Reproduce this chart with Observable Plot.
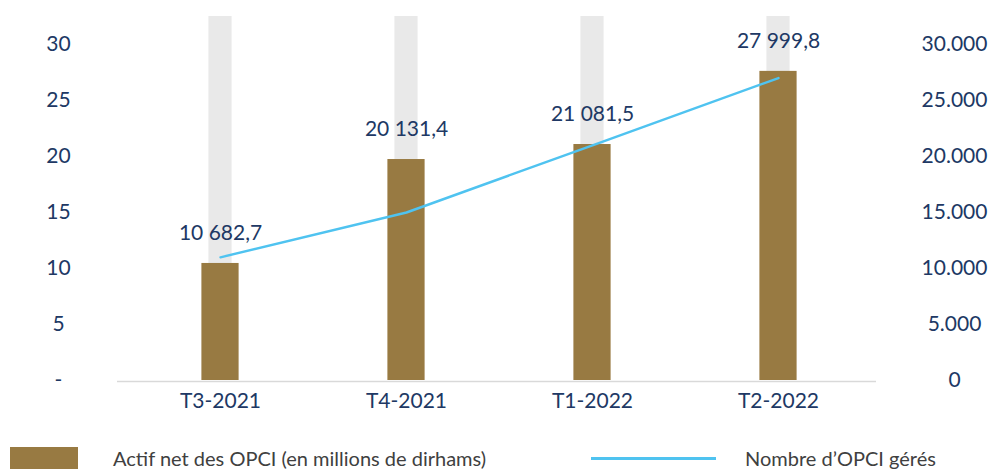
<!DOCTYPE html>
<html><head><meta charset="utf-8">
<script src="https://cdn.jsdelivr.net/npm/d3@7"></script>
<script src="https://cdn.jsdelivr.net/npm/@observablehq/plot@0.6"></script>
<style>
body{margin:0;background:#fff;font-family:Lato,"Noto Sans",sans-serif;}
#wrap{position:relative;width:989px;height:469px;overflow:hidden}
#chart svg{display:block}
.leg{position:absolute;font-size:20px;color:#404040;white-space:nowrap;line-height:22px}
</style></head><body><div id="wrap"><div id="chart"></div>
<div class="leg" style="left:10px;top:447px;width:68px;height:22px;background:#987A42"></div>
<div class="leg" style="left:113px;top:447px">Actif net des OPCI (en millions de dirhams)</div>
<div class="leg" style="left:591px;top:457px;width:125px;height:3px;background:#4FC3F0"></div>
<div class="leg" style="left:745px;top:447px">Nombre d’OPCI gérés</div>
</div>
<script>
// Data
const quarters = ["T3-2021", "T4-2021", "T1-2022", "T2-2022"];
const actifNetLabels = ["10 682,7", "20 131,4", "21 081,5", "27 999,8"];
const actifNetBars = [10450, 19730, 21070, 27600]; // millions de dirhams (bar heights as drawn)
const nombreOPCI = [11, 15, 21, 27];
const leftTicks = [0, 5, 10, 15, 20, 25, 30];
const rightTicks = [0, 5000, 10000, 15000, 20000, 25000, 30000];
const axisTop = 32.5;

const rows = quarters.map((q, i) => ({
  q, actif: actifNetBars[i] / 1000, label: actifNetLabels[i], n: nombreOPCI[i], top: axisTop
}));

const fmtRight = d => d === 0 ? "0" : d3.format(",")(d).replace(/,/g, ".");
const navy = "#203864";
const fs = 21;

const chart = Plot.plot({
  width: 989,
  height: 440,
  marginLeft: 117,
  marginRight: 113,
  marginTop: 16,
  marginBottom: 60,
  style: {fontFamily: "Lato, 'Noto Sans', sans-serif", fontSize: fs + "px", color: navy, background: "#fff"},
  x: {type: "band", domain: quarters, padding: 0, insetLeft: 8, insetRight: 4, label: null},
  y: {domain: [0, axisTop], label: null},
  marks: [
    Plot.barY(rows, {x: "q", y1: 0, y2: "top", fill: "#E9E9E9", insetLeft: 81.4, insetRight: 81.4}),
    Plot.barY(rows, {x: "q", y: "actif", fill: "#987A42", insetLeft: 74.4, insetRight: 74.4}),
    Plot.ruleY([0], {stroke: "#D9D9D9", strokeWidth: 1.5, dy: 1}),
    Plot.line(rows, {x: "q", y: "n", stroke: "#4FC3F0", strokeWidth: 2.4}),
    Plot.text(rows, {x: "q", y: "actif", text: "label", dy: -30, fill: navy, fontSize: fs}),
    Plot.axisX({anchor: "bottom", tickSize: 0, tickPadding: 13, fontSize: fs, label: null}),
    Plot.axisY(leftTicks, {anchor: "left", tickSize: 0, tickPadding: 59, textAnchor: "middle",
      tickFormat: d => d === 0 ? "-" : String(d), fontSize: fs, label: null}),
    Plot.axisY(rightTicks.map(d => d / 1000), {anchor: "right", tickSize: 0, tickPadding: 78, textAnchor: "middle",
      tickFormat: d => fmtRight(Math.round(d * 1000)), fontSize: fs, label: null})
  ]
});
document.getElementById("chart").appendChild(chart);
</script>
</body></html>
